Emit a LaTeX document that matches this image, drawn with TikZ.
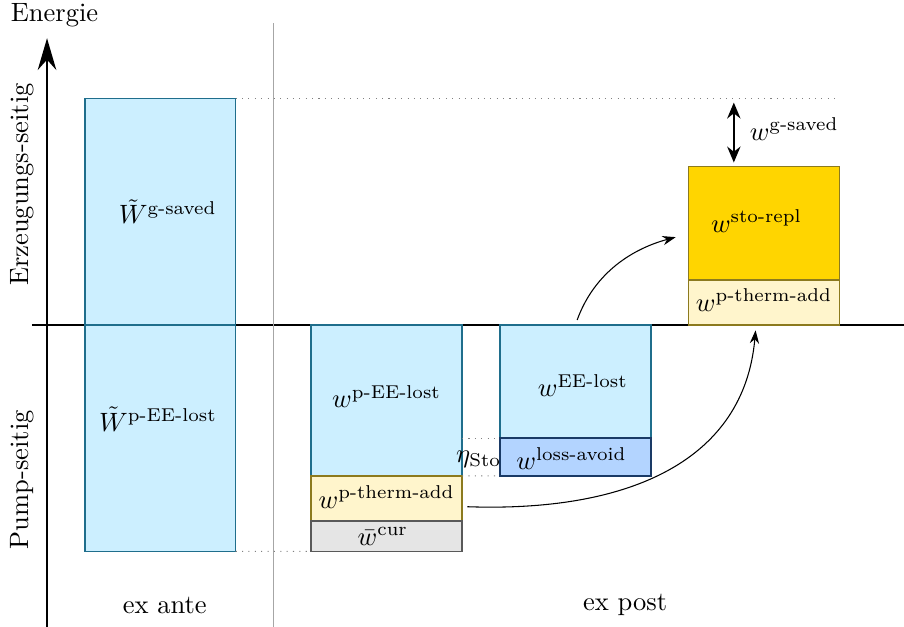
\documentclass[tikz,border=0pt]{standalone}
\usepackage{amsmath}
\usepackage{tikz}
\usetikzlibrary{arrows,arrows.meta}
\definecolor{eecyan}{HTML}{CCEFFF}
\definecolor{eeline}{HTML}{1F6E8C}
\definecolor{stogold}{HTML}{FFD500}
\definecolor{stoline}{HTML}{8C7A1E}
\definecolor{thermyellow}{HTML}{FFF5CC}
\definecolor{avoidblue}{HTML}{B3D4FF}
\definecolor{avoidline}{HTML}{1A3A66}
\definecolor{curgray}{HTML}{E5E5E5}
\tikzset{eebox/.style={rectangle, draw=eeline, fill=eecyan, semithick, minimum width=2cm, inner sep=0pt, outer sep=0pt},
	thermbox/.style={rectangle, draw=stoline, fill=thermyellow, semithick, minimum width=2cm, inner sep=0pt, outer sep=0pt},
	stobox/.style={rectangle, draw=stoline, fill=stogold, semithick, minimum width=2cm, inner sep=0pt, outer sep=0pt},
	avoidbox/.style={rectangle, draw=avoidline, fill=avoidblue, semithick, minimum width=2cm, inner sep=0pt, outer sep=0pt},
	curbox/.style={rectangle, draw=black!65, fill=curgray, semithick, minimum width=2cm, inner sep=0pt, outer sep=0pt},
	guide/.style={gray, dotted},
	flow/.style={-{Stealth[length=5pt,width=3.5pt]}}
}

\begin{document}
\begin{tikzpicture}
	\useasboundingbox (-0.623,-4.0) rectangle (11.355,4.306);
	% axes
	\coordinate (ybot) at (0,-4);
	\coordinate (ytop) at (0,3.8);
	\coordinate (xleft) at (-0.2,0);
	\coordinate (xright) at (11.36,0);
	\draw[thick, -{Stealth[length=12pt,width=7pt]}] (ybot) -- (ytop);
	\draw[thick] (xleft) -- (xright);
	\node (energie) at (0.1,4.11) {Energie};
	\node[rotate=90] (erz) at (-0.33,1.86) {Erzeugungs-seitig};
	\node[rotate=90] (pump) at (-0.33,-2.05) {Pump-seitig};
	% separator
	\coordinate (septop) at (3,4.0);
	\coordinate (sepbot) at (3,-4.0);
	\draw[gray!70] (septop) -- (sepbot);
	\node (exante) at (1.56,-3.71) {ex ante};
	\node (expost) at (7.66,-3.71) {ex post};
	% ex ante
	\node[eebox, minimum height=3cm, anchor=south west] (gsav) at (0.5,0) {};
	\node[eebox, minimum height=3cm, anchor=north west] (peeante) at (0.5,0) {};
	\node (gsavlbl) at (1.6,1.5) {$\tilde{W}^{\text{g-saved}}$};
	\node (peeantelbl) at (1.47,-1.25) {$\tilde{W}^{\text{p-EE-lost}}$};
	% ex post, pump side
	\node[eebox, minimum height=2cm, anchor=north west] (peepost) at (3.5,0) {};
	\node[thermbox, minimum height=0.6cm, anchor=north west] (pthermlow) at (3.5,-2) {};
	\node[curbox, minimum height=0.4cm, anchor=north west] (cur) at (3.5,-2.6) {};
	\node (peepostlbl) at (4.5,-0.95) {$w^{\text{p-EE-lost}}$};
	\node (pthermlowlbl) at (4.5,-2.28) {$w^{\text{p-therm-add}}$};
	\node (curlbl) at (4.45,-2.8) {$\bar{w}^{\text{cur}}$};
	\node[eebox, minimum height=1.5cm, anchor=north west] (eelost) at (6,0) {};
	\node[avoidbox, minimum height=0.5cm, anchor=north west] (avoid) at (6,-1.5) {};
	\node (eelostlbl) at (7.1,-0.8) {$w^{\text{EE-lost}}$};
	\node (avoidlbl) at (6.95,-1.77) {$w^{\text{loss-avoid}}$};
	\node (eta) at (5.72,-1.78) {$\eta_{\text{Sto}}$};
	% ex post, generation side
	\node[thermbox, minimum height=0.6cm, anchor=south west] (pthermtop) at (8.5,0) {};
	\node[stobox, minimum height=1.5cm, anchor=south west] (storepl) at (8.5,0.6) {};
	\node (storepllbl) at (9.4,1.38) {$w^{\text{sto-repl}}$};
	\node (pthermtoplbl) at (9.5,0.33) {$w^{\text{p-therm-add}}$};
	% guides
	\draw[guide] (gsav.north east) -- (gsav.north east -| storepl.east);
	\draw[guide] (peeante.south east) -- (cur.south west);
	\draw[guide] (peepost.east |- avoid.north) -- (avoid.north west);
	\draw[guide] (peepost.south east) -- (avoid.south west);
	% saved energy
	\coordinate (gtop) at (9.1,3);
	\draw[thick, {Stealth[length=6pt,width=5pt]}-{Stealth[length=6pt,width=5pt]}, shorten <=1.5pt, shorten >=1.5pt] (gtop) -- (gtop |- storepl.north);
	\node (gsavpost) at (9.9,2.6) {$w^{\text{g-saved}}$};
	% flows
	\draw[flow, shorten <=2pt, shorten >=5pt] (eelost.north) to[out=70,in=195] ([yshift=-4pt]storepl.west);
	\draw[flow, shorten <=2pt, shorten >=2pt] ([yshift=-3pt]pthermlow.east) to[out=-2,in=265,out looseness=1.25,in looseness=1] ([xshift=-3pt]pthermtop.south);
\end{tikzpicture}
\end{document}
